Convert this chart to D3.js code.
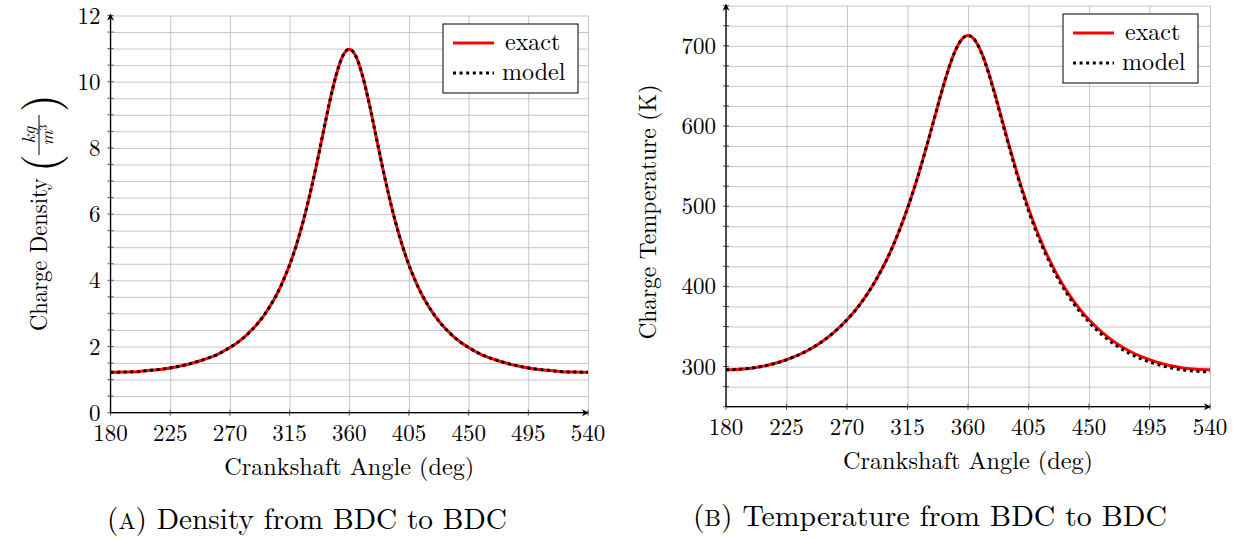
<!DOCTYPE html>
<html>
<head>
<meta charset="utf-8">
<script src="https://cdn.jsdelivr.net/npm/d3@7/dist/d3.min.js"></script>
<style>
body { margin: 0; background: #fff; }
svg text { font-family: "Latin Modern Roman", "CMU Serif", "Liberation Serif", serif; fill: #000; }
</style>
</head>
<body>
<svg id="chart" width="1239" height="539"></svg>
<script>
// crank angle (deg)
const angles = [180,190,200,210,220,230,240,250,260,270,275,280,285,290,295,300,305,310,315,320,325,330,335,340,345,350,355,360,
    365,370,375,380,385,390,395,400,405,410,415,420,425,430,435,440,445,450,460,470,480,490,500,510,520,530,540];

const densityExact = [1.22,1.23,1.24,1.28,1.32,1.39,1.48,1.60,1.75,1.97,2.10,2.25,2.44,2.65,2.90,3.20,3.55,3.97,4.46,5.05,5.74,6.54,7.43,8.39,9.35,10.18,10.77,10.98,
    10.77,10.18,9.35,8.39,7.43,6.54,5.74,5.05,4.46,3.97,3.55,3.20,2.90,2.65,2.44,2.25,2.10,1.97,1.75,1.60,1.48,1.39,1.32,1.28,1.24,1.23,1.22];
const densityModel = [1.22,1.23,1.24,1.28,1.32,1.39,1.48,1.60,1.75,1.97,2.10,2.25,2.44,2.65,2.90,3.20,3.55,3.97,4.46,5.05,5.74,6.54,7.43,8.39,9.35,10.18,10.77,10.98,
    10.77,10.18,9.35,8.39,7.43,6.54,5.74,5.05,4.46,3.97,3.55,3.20,2.90,2.65,2.44,2.25,2.10,1.97,1.75,1.60,1.48,1.39,1.32,1.28,1.24,1.23,1.22];

const tempExact = [296.0,296.6,298.3,301.3,305.7,311.7,319.5,329.5,342.3,358.3,367.8,378.4,390.3,403.6,418.5,435.1,453.7,474.3,497.3,522.5,550.0,579.3,609.8,640.2,668.3,691.7,707.3,712.8,
    707.3,691.7,668.3,640.2,609.8,579.3,550.0,522.5,497.3,474.3,453.7,435.1,418.5,403.6,390.3,378.4,367.8,358.3,342.3,329.5,319.5,311.7,305.7,301.3,298.3,296.6,296.0];
const tempModel = [296.0,296.6,298.3,301.3,305.7,311.7,319.5,329.5,342.3,358.3,367.8,378.4,390.3,403.6,418.5,435.1,453.7,474.3,497.3,522.5,550.0,579.3,609.8,640.2,668.3,691.7,707.3,712.8,
    707.3,691.2,667.3,638.7,607.8,577.3,547.5,520.0,494.3,471.3,450.7,432.1,415.5,400.6,387.3,375.4,364.8,355.3,339.3,326.5,316.5,308.7,303.2,298.8,295.8,294.1,293.5];

const xTicks = [180,225,270,315,360,405,450,495,540];
const densityTicks = [0,2,4,6,8,10,12];
const tempTicks = [300,400,500,600,700];
const legendLabels = ["exact","model"];

const svg = d3.select("#chart");
const gridColor = "#c6c6c6";

function drawPanel(p) {
    const x = d3.scaleLinear().domain([180, 540]).range([p.left, p.right]);
    const y = d3.scaleLinear().domain(p.yDomain).range([p.bottom, p.top]);
    const g = svg.append("g");
    const gridY = d3.range(p.yDomain[0], p.yDomain[1] + p.gridStep / 2, p.gridStep);

    // grid
    g.append("g")
        .attr("transform", `translate(0,${p.bottom})`)
        .call(d3.axisBottom(x).tickValues(xTicks).tickSize(-(p.bottom - p.top)).tickFormat(""))
        .call(s => s.select(".domain").remove())
        .selectAll("line").attr("stroke", gridColor).attr("stroke-width", 1);
    g.append("g")
        .attr("transform", `translate(${p.left},0)`)
        .call(d3.axisLeft(y).tickValues(gridY).tickSize(-(p.right - p.left)).tickFormat(""))
        .call(s => s.select(".domain").remove())
        .selectAll("line").attr("stroke", gridColor).attr("stroke-width", 1);

    // small tick marks across the axis lines
    g.selectAll(".xt").data(xTicks).join("line")
        .attr("x1", d => x(d)).attr("x2", d => x(d))
        .attr("y1", p.bottom - 3).attr("y2", p.bottom + 3)
        .attr("stroke", "#555").attr("stroke-width", 1);
    g.selectAll(".yt").data(gridY).join("line")
        .attr("x1", p.left - 3).attr("x2", p.left + 3)
        .attr("y1", d => y(d)).attr("y2", d => y(d))
        .attr("stroke", "#555").attr("stroke-width", 1);

    // axis lines with arrow heads
    g.append("line").attr("x1", p.left).attr("x2", p.right).attr("y1", p.bottom).attr("y2", p.bottom)
        .attr("stroke", "#000").attr("stroke-width", 1.3);
    g.append("line").attr("x1", p.left).attr("x2", p.left).attr("y1", p.bottom).attr("y2", p.top - 1)
        .attr("stroke", "#000").attr("stroke-width", 1.3);
    g.append("path")
        .attr("d", `M${p.right + 1},${p.bottom} l-7,-3.5 l2,3.5 l-2,3.5 z`)
        .attr("fill", "#000");
    g.append("path")
        .attr("d", `M${p.left},${p.top - 2} l-3.5,7 l3.5,-2 l3.5,2 z`)
        .attr("fill", "#000");

    // tick labels
    g.selectAll(".xl").data(xTicks).join("text")
        .attr("x", d => x(d)).attr("y", p.bottom + 28)
        .attr("text-anchor", "middle").attr("font-size", 23)
        .text(d => d);
    g.selectAll(".yl").data(p.yTicks).join("text")
        .attr("x", p.left - 10).attr("y", d => y(d) + 8)
        .attr("text-anchor", "end").attr("font-size", 23)
        .text(d => d);

    // x title
    g.append("text")
        .attr("x", (p.left + p.right) / 2).attr("y", p.bottom + 62)
        .attr("text-anchor", "middle").attr("font-size", 24)
        .attr("textLength", 250).attr("lengthAdjust", "spacingAndGlyphs")
        .text("Crankshaft Angle (deg)");

    // curves
    const pts = v => angles.map((a, i) => ({ a: a, v: v[i] }));
    const line = d3.line().x(d => x(d.a)).y(d => y(d.v)).curve(d3.curveMonotoneX);
    g.append("path").attr("d", line(pts(p.exact)))
        .attr("fill", "none").attr("stroke", "#ff0000").attr("stroke-width", 3);
    g.append("path").attr("d", line(pts(p.model)))
        .attr("fill", "none").attr("stroke", "#000").attr("stroke-width", 3)
        .attr("stroke-dasharray", "3,3.6");

    // legend
    const lg = g.append("g").attr("transform", `translate(${p.legend[0]},${p.legend[1]})`);
    lg.append("rect").attr("width", 135).attr("height", 69)
        .attr("fill", "#fff").attr("stroke", "#000").attr("stroke-width", 1);
    const rows = lg.selectAll(".row").data(legendLabels).join("g")
        .attr("transform", (d, i) => `translate(0,${19 + i * 30})`);
    rows.append("line").attr("x1", 10).attr("x2", 51).attr("y1", 0).attr("y2", 0)
        .attr("stroke", (d, i) => i == 0 ? "#ff0000" : "#000")
        .attr("stroke-width", 3)
        .attr("stroke-dasharray", (d, i) => i == 0 ? null : "3,3.6");
    rows.append("text").attr("x", (d, i) => i == 0 ? 62 : 59).attr("y", 7).attr("font-size", 24)
        .text(d => d);
    return g;
}

drawPanel({
    left: 110.5, right: 588, top: 15.5, bottom: 412.7,
    yDomain: [0, 12], gridStep: 0.5, yTicks: densityTicks,
    exact: densityExact, model: densityModel, legend: [443, 24]
});
drawPanel({
    left: 726, right: 1210, top: 5.7, bottom: 406.7,
    yDomain: [250, 750], gridStep: 25, yTicks: tempTicks,
    exact: tempExact, model: tempModel, legend: [1063, 14]
});

// y titles
const yl1 = svg.append("g").attr("transform", "translate(47,331) rotate(-90)");
yl1.append("text").attr("x", 0).attr("y", 0).attr("font-size", 24)
    .attr("textLength", 153).attr("lengthAdjust", "spacingAndGlyphs")
    .text("Charge Density");
yl1.append("text").attr("x", 159).attr("y", 9).attr("font-size", 46).text("(");
yl1.append("text").attr("x", 219).attr("y", 9).attr("font-size", 46).text(")");
yl1.append("line").attr("x1", 176).attr("x2", 216).attr("y1", -8).attr("y2", -8)
    .attr("stroke", "#000").attr("stroke-width", 1);
yl1.append("text").attr("x", 196).attr("y", -12).attr("font-size", 18)
    .attr("font-style", "italic").attr("text-anchor", "middle").text("kg");
const den = yl1.append("text").attr("x", 196).attr("y", 6).attr("font-size", 18)
    .attr("font-style", "italic").attr("text-anchor", "middle");
den.append("tspan").text("m");
den.append("tspan").attr("font-size", 12).attr("font-style", "normal").attr("dy", -6).text("3");

svg.append("text").attr("transform", "translate(656,212) rotate(-90)")
    .attr("text-anchor", "middle").attr("font-size", 24)
    .attr("textLength", 255).attr("lengthAdjust", "spacingAndGlyphs")
    .text("Charge Temperature (K)");

// captions
const c1 = svg.append("text").attr("x", 107).attr("y", 529).attr("font-size", 29.5)
    .attr("textLength", 400).attr("lengthAdjust", "spacingAndGlyphs");
c1.append("tspan").text("(");
c1.append("tspan").attr("font-size", 23).text("A");
c1.append("tspan").text(") Density from BDC to BDC");
const c2 = svg.append("text").attr("x", 693).attr("y", 526).attr("font-size", 29.5)
    .attr("textLength", 474).attr("lengthAdjust", "spacingAndGlyphs");
c2.append("tspan").text("(");
c2.append("tspan").attr("font-size", 23).text("B");
c2.append("tspan").text(") Temperature from BDC to BDC");
</script>
</body>
</html>
